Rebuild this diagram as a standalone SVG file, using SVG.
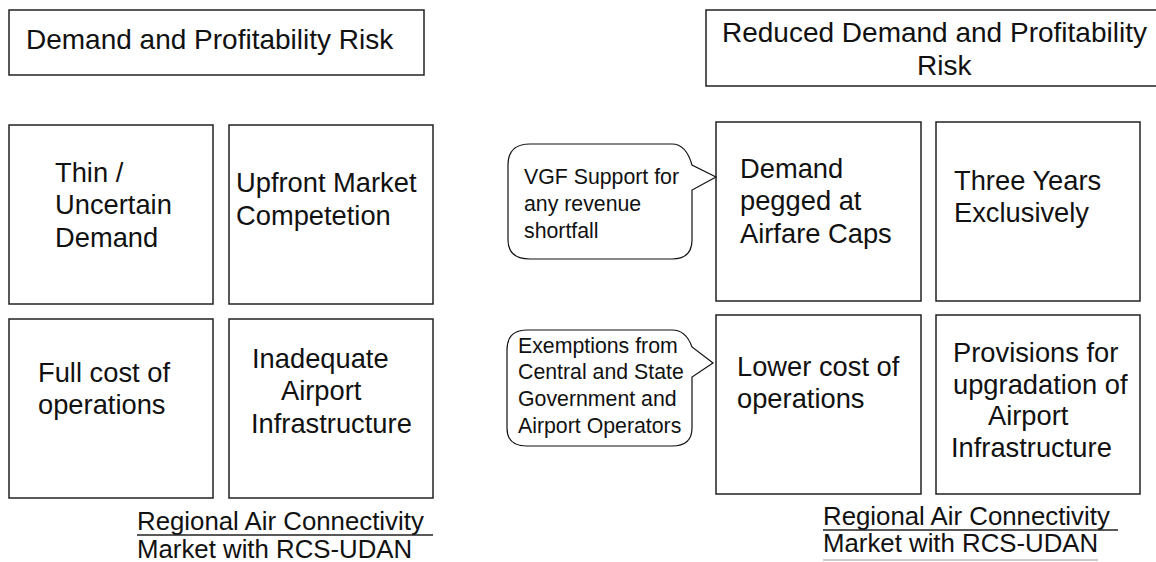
<svg xmlns="http://www.w3.org/2000/svg" width="1156" height="562" viewBox="0 0 1156 562">
<style>
.box{fill:#fff;stroke:#222;stroke-width:1.5}
.call{fill:#fff;stroke:#111;stroke-width:1.2}
.t{font-family:"Liberation Sans",Arial,sans-serif;font-size:27.3px;fill:#111}
.h{font-family:"Liberation Sans",Arial,sans-serif;font-size:28px;fill:#111}
.s{font-family:"Liberation Sans",Arial,sans-serif;font-size:21.3px;fill:#111}
.f{font-family:"Liberation Sans",Arial,sans-serif;font-size:25.8px;fill:#111}
.u{stroke:#222;stroke-width:1.5}
</style>
<rect width="1156" height="562" fill="#fff"/>
<g id="title-left">
<rect class="box" x="9" y="10" width="415" height="65"/>
<text class="h" x="26" y="49">Demand and Profitability Risk</text>
</g>
<g id="title-right">
<rect class="box" x="706" y="10" width="460" height="76"/>
<text class="h" x="722" y="42">Reduced Demand and Profitability</text>
<text class="h" x="917" y="75">Risk</text>
</g>
<g id="thin-demand">
<rect class="box" x="9" y="125" width="204" height="179"/>
<text class="t" x="55" y="182">Thin /</text>
<text class="t" x="55" y="214">Uncertain</text>
<text class="t" x="55" y="247">Demand</text>
</g>
<g id="upfront-competition">
<rect class="box" x="229" y="125" width="204" height="179"/>
<text class="t" x="236" y="192">Upfront Market</text>
<text class="t" x="236" y="225">Competetion</text>
</g>
<g id="full-cost">
<rect class="box" x="9" y="319" width="204" height="179"/>
<text class="t" x="38" y="382">Full cost of</text>
<text class="t" x="38" y="414">operations</text>
</g>
<g id="inadequate-infra">
<rect class="box" x="229" y="319" width="204" height="179"/>
<text class="t" x="252" y="368">Inadequate</text>
<text class="t" x="281" y="400">Airport</text>
<text class="t" x="251" y="433">Infrastructure</text>
</g>
<g id="label-left">
<text class="f" x="137" y="530">Regional Air Connectivity</text>
<line class="u" x1="137" y1="535" x2="433" y2="535"/>
<text class="f" x="137" y="558">Market with RCS-UDAN</text>
</g>
<g id="demand-pegged">
<rect class="box" x="716" y="122" width="205" height="179"/>
<text class="t" x="740" y="178">Demand</text>
<text class="t" x="740" y="210">pegged at</text>
<text class="t" x="740" y="243">Airfare Caps</text>
</g>
<g id="three-years">
<rect class="box" x="936" y="122" width="204" height="179"/>
<text class="t" x="954" y="190">Three Years</text>
<text class="t" x="954" y="222">Exclusively</text>
</g>
<g id="lower-cost">
<rect class="box" x="716" y="315" width="205" height="179"/>
<text class="t" x="737" y="376">Lower cost of</text>
<text class="t" x="737" y="408">operations</text>
</g>
<g id="provisions">
<rect class="box" x="936" y="315" width="204" height="179"/>
<text class="t" x="953" y="362">Provisions for</text>
<text class="t" x="953" y="394">upgradation of</text>
<text class="t" x="988" y="425">Airport</text>
<text class="t" x="951" y="457">Infrastructure</text>
</g>
<g id="label-right">
<text class="f" x="823" y="525">Regional Air Connectivity</text>
<line class="u" x1="823" y1="530" x2="1118" y2="530"/>
<text class="f" x="823" y="552">Market with RCS-UDAN</text>
<line x1="823" y1="560" x2="1098" y2="560" stroke="#999" stroke-width="1"/>
</g>
<g id="callout-vgf">
<path class="call" d="M530,144 H672 Q686,144 692,165 L716,177 L692,190 V240 Q692,259 672,259 H530 Q508,259 508,240 V165 Q508,144 530,144 Z"/>
<text class="s" x="524" y="184">VGF Support for</text>
<text class="s" x="524" y="211">any revenue</text>
<text class="s" x="524" y="238">shortfall</text>
</g>
<g id="callout-exemptions">
<path class="call" d="M527,330 H672 Q686,330 692,347 L713,363 L692,377 V428 Q692,446 672,446 H527 Q507,446 507,428 V350 Q507,330 527,330 Z"/>
<text class="s" x="518" y="353">Exemptions from</text>
<text class="s" x="518" y="379">Central and State</text>
<text class="s" x="518" y="406">Government and</text>
<text class="s" x="518" y="433">Airport Operators</text>
</g>
<g id="connectors"></g>
</svg>
